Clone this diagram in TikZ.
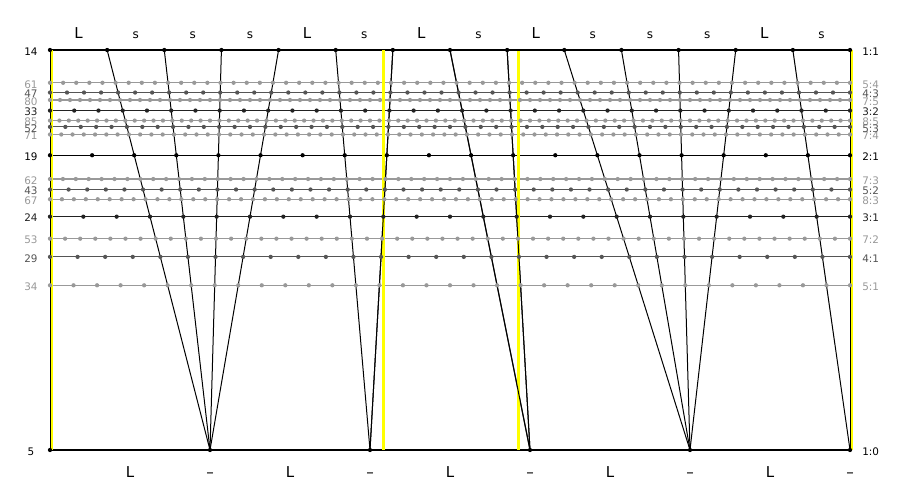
\documentclass[tikz,border=0pt]{standalone}
\usepackage{fontspec}
\setmainfont{DejaVu Sans}
\definecolor{lvA}{HTML}{000000}
\definecolor{lvB}{HTML}{222222}
\definecolor{lvC}{HTML}{555555}
\definecolor{lvD}{HTML}{999999}
\definecolor{yel}{HTML}{FFFF00}
\tikzset{
  hline/.style={line width=0.85pt},
  yline/.style={yel, line width=2.1pt},
  conn/.style={black, line width=0.75pt},
  dot/.style={circle, inner sep=0pt, minimum size=3.2pt, draw=none},
  numlab/.style={font=\fontsize{7.8pt}{9pt}\selectfont, anchor=base, inner sep=0pt},
  ratlab/.style={font=\fontsize{7.8pt}{9pt}\selectfont, anchor=base west, inner sep=0pt},
  biglab/.style={font=\fontsize{11.25pt}{13pt}\selectfont, anchor=base, inner sep=0pt},
  smalllab/.style={font=\fontsize{9pt}{11pt}\selectfont, anchor=base, inner sep=0pt},
}
\begin{document}
\begin{tikzpicture}[x=0.75pt,y=-0.75pt]
\useasboundingbox (0,0) rectangle (900,500);
\fill[white] (0,0) rectangle (900,500);
\def\ratios{5/4/lvD, 7/5/lvD, 8/5/lvD, 7/4/lvD, 7/3/lvD, 8/3/lvD, 7/2/lvD, 5/1/lvD,
  4/3/lvC, 5/3/lvC, 5/2/lvC, 4/1/lvC, 3/2/lvB, 3/1/lvB, 1/1/lvA, 2/1/lvA, 1/0/lvA}
% horizontal lines
\foreach \L/\s/\col in \ratios {
  \pgfmathtruncatemacro\n{5*\L+9*\s}
  \pgfmathsetmacro\yy{50+(\L-\s)/\n*2000}
  \draw[hline,\col] (50,\yy) -- (850,\yy);
}
% connector end points
\foreach \k in {0,...,14} { \coordinate (t\k) at ({50+\k/14*800},50); }
\foreach \m in {0,...,5} { \coordinate (b\m) at ({50+160*\m},450); }
\foreach \k/\m in {0/0,1/1,2/1,3/1,4/1,5/2,6/2,7/3,8/3,9/4,10/4,11/4,12/4,13/5,14/5} {
  \draw[conn] (t\k) -- (b\m);
}
% yellow markers
\draw[yline, line width=1.6pt] (51.6,50) -- (51.6,450);
\draw[yline, line width=1.6pt] (851.6,50) -- (851.6,450);
\draw[yline] (383.2,50) -- (383.2,450);
\draw[yline] (518.4,51) -- (518.4,450);
% redraw connectors that cross the yellow markers
\foreach \k/\m in {6/2,7/3,8/3} {
  \draw[conn] (t\k) -- (b\m);
}
% dots and labels
\foreach \L/\s/\col in \ratios {
  \pgfmathtruncatemacro\n{5*\L+9*\s}
  \pgfmathsetmacro\yy{50+(\L-\s)/\n*2000}
  \pgfmathsetmacro\stp{800/\n}
  \foreach \k in {0,...,\n} { \node[dot, fill=\col] at ({50+\k*\stp},\yy) {}; }
  \node[numlab,text=\col] (n\n) at (31,\yy+5.3) {\n};
  \node[ratlab,text=\col] (r\n) at (862,\yy+5.3) {\L:\s};
}
% top step letters
\foreach \c [count=\i from 0] in {L,s,s,s,L,s,L,s,L,s,s,s,L,s} {
  \if L\c
    \node[biglab] (top\i) at ({50+(\i+0.5)/14*800},38) {L};
  \else
    \node[smalllab] (top\i) at ({50+(\i+0.5)/14*800},38) {s};
  \fi
}
% bottom letters
\foreach \j in {0,...,4} {
  \node[biglab] (bl\j) at ({130+160*\j},477) {L};
  \node[biglab] (bd\j) at ({210+160*\j},477) {–};
}
\end{tikzpicture}
\end{document}
